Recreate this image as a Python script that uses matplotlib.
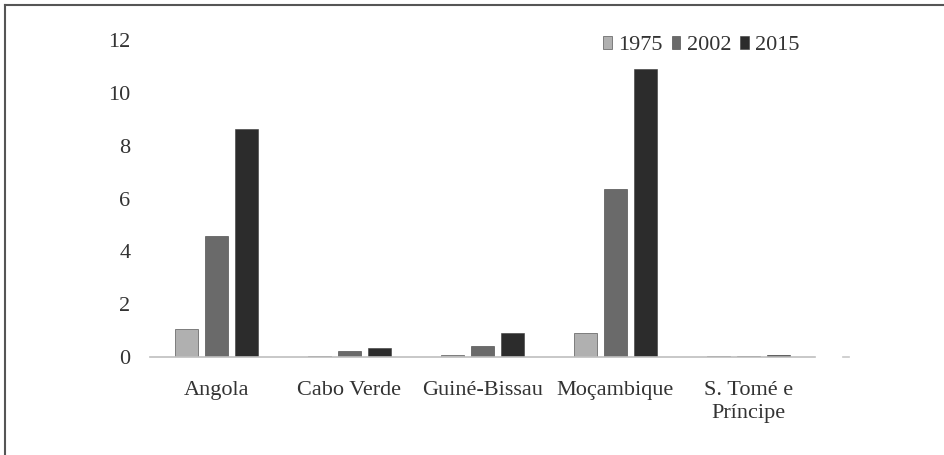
import numpy as np
import matplotlib.pyplot as plt
from matplotlib.lines import Line2D

plt.rcParams['font.family'] = 'serif'
plt.rcParams['font.serif'] = ['Liberation Serif', 'Tinos', 'Times New Roman', 'PT Serif',
                              'Source Serif 4', 'DejaVu Serif']

countries = ['Angola', 'Cabo Verde', 'Guiné-Bissau', 'Moçambique', 'S. Tomé e\nPríncipe']
years = ['1975', '2002', '2015']
v1975 = [1.06, 0.03, 0.07, 0.90, 0.02]
v2002 = [4.58, 0.23, 0.43, 6.36, 0.04]
v2015 = [8.64, 0.34, 0.90, 10.90, 0.08]
colors = ['#b0b0b0', '#6a6a6a', '#2c2c2c']

fig = plt.figure(figsize=(9.45, 4.55), dpi=100)
ax = fig.add_axes([150 / 945, 1 - 357 / 455, 665 / 945, (357 - 40) / 455])

x = np.arange(len(countries))
w = 0.17
off = 0.225
for i, (vals, lab) in enumerate(zip([v1975, v2002, v2015], years)):
    ax.bar(x + (i - 1) * off, vals, w, color=colors[i], label=lab,
           edgecolor='#3a3a3a', linewidth=0.4)

ax.set_xlim(-0.5, len(countries) - 0.5)
ax.set_ylim(0, 12)
ax.set_yticks(range(0, 13, 2))
ax.set_xticks(x)
ax.set_xticklabels(countries, fontsize=16, color='#333333', linespacing=1.3)
ax.tick_params(axis='y', labelsize=16, labelcolor='#333333', length=0, pad=14)
ax.tick_params(axis='x', length=0, pad=17)
for s in ['top', 'right', 'left']:
    ax.spines[s].set_visible(False)
ax.spines['bottom'].set_color('#bfbfbf')
ax.spines['bottom'].set_linewidth(1.2)

leg = ax.legend(loc='upper right', bbox_to_anchor=((800 - 150) / 665, 1.012), ncol=3,
                frameon=False, fontsize=16, borderpad=0, borderaxespad=0,
                handlelength=0.38, handleheight=0.5, handletextpad=0.3,
                columnspacing=0.4)
for t in leg.get_texts():
    t.set_color('#333333')

# stray tick right of the axis, as in the original
fig.add_artist(Line2D([843 / 945, 849 / 945], [1 - 357 / 455] * 2, color='#c8c8c8', lw=1.2))

# outer frame (top and left only)
fig.add_artist(Line2D([5 / 945, 1], [1 - 5 / 455, 1 - 5 / 455], color='#555555', lw=1.5))
fig.add_artist(Line2D([5 / 945, 5 / 945], [0, 1 - 5 / 455], color='#555555', lw=1.5))

fig.savefig('out.png', dpi=100)
